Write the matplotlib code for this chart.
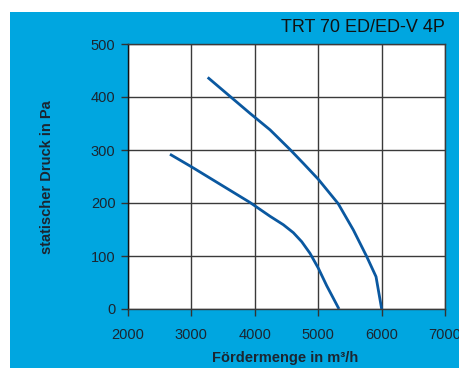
import matplotlib
matplotlib.use("Agg")
import matplotlib.pyplot as plt

plt.rcParams["font.family"] = ["Liberation Sans", "DejaVu Sans"]

title = "TRT 70 ED/ED-V 4P"
xlabel = "Fördermenge in m³/h"
ylabel = "statischer Druck in Pa"
xticks = [2000, 3000, 4000, 5000, 6000, 7000]
yticks = [0, 100, 200, 300, 400, 500]

upper_x = [3257, 3926, 4241, 4555, 4764, 5000, 5314, 5555, 5765, 5912, 6001]
upper_y = [437, 369, 338, 301, 275, 245, 199, 149, 99, 61, 0]
lower_x = [2662, 3005, 3924, 4240, 4450, 4608, 4740, 4871, 5002, 5134, 5328]
lower_y = [292, 268, 201, 175, 159, 144, 127, 105, 77, 44, 0]

W, H = 460, 368
fig = plt.figure(figsize=(W / 100, H / 100), dpi=100)
fig.patch.set_facecolor("white")
bg = "#00A6E0"
bgax = fig.add_axes([10 / W, 0, 1 - 10 / W, (H - 12) / H], zorder=-5)
bgax.set_facecolor(bg)
bgax.set_xticks([]); bgax.set_yticks([])
for s in bgax.spines.values():
    s.set_visible(False)

left, right, top, bottom = 128, 445, 44, 309
ax = fig.add_axes([left / W, (H - bottom) / H, (right - left) / W, (bottom - top) / H], zorder=1)
ax.set_facecolor("white")
ax.set_xlim(2000, 7000)
ax.set_ylim(0, 500)
ax.set_xticks(xticks)
ax.set_yticks(yticks)
ax.grid(True, color="#3a3a3a", linewidth=1.0)
ax.set_axisbelow(True)
for s in ax.spines.values():
    s.set_color("#3a3a3a")
    s.set_linewidth(1.0)
ax.spines["left"].set_color("#111111")

lc = "#0A58A0"
ax.plot(upper_x, upper_y, color=lc, linewidth=2.0, solid_capstyle="butt")
ax.plot(lower_x, lower_y, color=lc, linewidth=2.0, solid_capstyle="butt")

tc = "#1c2530"
ax.tick_params(axis="both", direction="out", length=5, width=1, color="#333333",
               labelsize=10.5, labelcolor=tc)
ax.tick_params(axis="y", pad=4)
ax.tick_params(axis="x", pad=9)

fig.text(445 / W, (H - 27) / H, title, ha="right", va="center", fontsize=13, color="#111111")
fig.text(47 / W, (H - 177) / H, ylabel, rotation=90, ha="center", va="center",
         fontsize=10.5, fontweight="bold", color=tc)
fig.text(285 / W, (H - 358) / H, xlabel, ha="center", va="center",
         fontsize=10.5, fontweight="bold", color=tc)

fig.savefig("out.png", dpi=100)
